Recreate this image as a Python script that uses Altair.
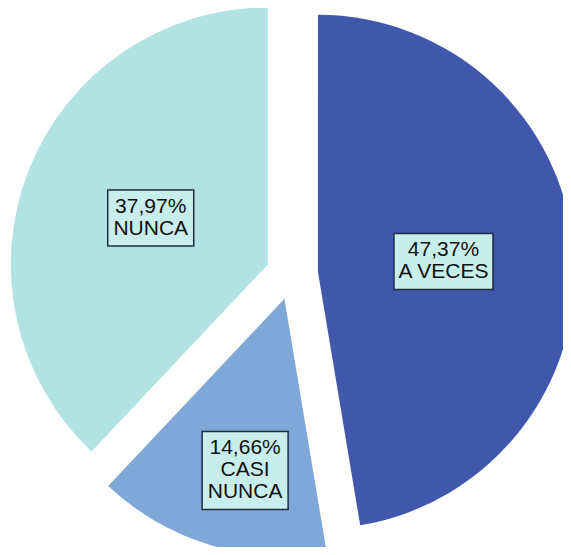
import altair as alt
import pandas as pd

# ---- data ----
categories = ["A VECES", "CASI NUNCA", "NUNCA"]
percents = [47.37, 14.66, 37.97]
category_lines = [["A VECES"], ["CASI", "NUNCA"], ["NUNCA"]]
colors = ["#3f58ab", "#7fa8d9", "#b2e2e2"]

pct_text = [f"{p:.2f}".replace(".", ",") + "%" for p in percents]
df = pd.DataFrame({
    "idx": list(range(len(categories))),
    "category": categories,
    "pct": percents,
    "label": [[t] + lines for t, lines in zip(pct_text, category_lines)],
    "nlines": [1 + len(l) for l in category_lines],
    "maxchars": [max(len(t), *[len(s) for s in lines]) for t, lines in zip(pct_text, category_lines)],
})

CX, CY, R, D = 284, 266, 257, 26
LH = 22

base = alt.Chart(df).transform_window(
    cum="sum(pct)", sort=[alt.SortField("idx")], frame=[None, 0]
).transform_calculate(
    start="datum.cum - datum.pct",
    mid="(datum.cum - datum.pct / 2) / 100 * 2 * PI",
).transform_calculate(
    cx=f"{CX} + {D} * sin(datum.mid)",
    cy=f"{CY} - {D} * cos(datum.mid)",
    lr="datum.pct < 20 ? 176 : 126",
    lang="datum.pct < 20 ? -0.07 : 0",
).transform_calculate(
    lx="datum.cx + datum.lr * sin(datum.mid + datum.lang)",
    ly="datum.cy - datum.lr * cos(datum.mid + datum.lang)",
    bw="datum.maxchars * 13 + 8",
    bh=f"datum.nlines * {LH} + 12",
).transform_calculate(
    bx="datum.lx - datum.bw / 2",
    bx2="datum.lx + datum.bw / 2",
    by="datum.ly - datum.bh / 2",
    by2="datum.ly + datum.bh / 2",
    ty=f"datum.ly - (datum.nlines - 1) * {LH} / 2",
)

arcs = base.mark_arc(outerRadius=R, stroke=None).encode(
    x=alt.X("cx:Q", scale=None),
    y=alt.Y("cy:Q", scale=None),
    theta=alt.Theta("start:Q", stack=None,
                    scale=alt.Scale(domain=[0, 100], range=[0, 6.283185307179586])),
    theta2="cum:Q",
    color=alt.Color("category:N", scale=alt.Scale(domain=categories, range=colors), legend=None),
)

boxes = base.mark_rect(fill="#c8eeec", stroke="#1c2c44", strokeWidth=1.5).encode(
    x=alt.X("bx:Q", scale=None),
    x2="bx2:Q",
    y=alt.Y("by:Q", scale=None),
    y2="by2:Q",
)

texts = base.mark_text(fontSize=21, font="Liberation Sans", lineHeight=LH,
                       baseline="middle", align="center", color="#111111").encode(
    x=alt.X("lx:Q", scale=None),
    y=alt.Y("ty:Q", scale=None),
    text="label",
)

chart = alt.layer(arcs, boxes, texts).properties(
    width=555, height=539, padding=0, background="white",
    autosize=alt.AutoSizeParams(type="none"),
).configure_view(stroke=None, strokeWidth=0)

chart.save("out.html", embed_options={"renderer": "svg", "actions": False})
